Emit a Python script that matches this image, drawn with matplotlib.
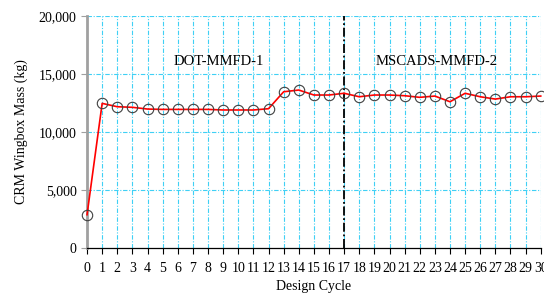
import numpy as np
import matplotlib
matplotlib.use("Agg")
import matplotlib.pyplot as plt

# design cycle history of wingbox mass
cycles = list(range(0, 31))
mass = [2870, 12470, 12180, 12130, 11980, 11950, 11950, 11950, 11950, 11900,
        11900, 11900, 12010, 13470, 13620, 13190, 13190, 13340, 13040, 13190,
        13190, 13130, 12990, 13100, 12610, 13340, 13040, 12840, 13040, 13040,
        13100]
switch_cycle = 17
phase_labels = ["DOT-MMFD-1", "MSCADS-MMFD-2"]
phase_label_x = [8.7, 23.1]
yticks = [0, 5000, 10000, 15000, 20000]

plt.rcParams['font.family'] = ['Liberation Serif', 'DejaVu Serif']

fig = plt.figure(figsize=(5.44, 2.97), dpi=100)
ax = fig.add_axes([0.16, 0.165, 0.834, 0.781])

grid_c = '#3fd0f5'
for x in cycles[1:]:
    ax.axvline(x, color=grid_c, lw=0.8, ls=(0, (4, 1.5, 1, 1.5)), zorder=0)
for y in yticks[1:]:
    ax.axhline(y, color=grid_c, lw=0.8, ls=(0, (4, 1.5, 1, 1.5)), zorder=0)

ax.plot(cycles, mass, color='#ff0000', lw=1.2, marker='o', ms=7.5,
        mfc='none', mec='#404040', mew=0.8, zorder=3, clip_on=False)
ax.axvline(switch_cycle, color='black', lw=1.3, ls=(0, (5, 1.5, 1, 1.5)), zorder=2)

for lab, x in zip(phase_labels, phase_label_x):
    ax.text(x, 16100, lab, ha='center', va='center', fontsize=10.5)

ax.set_xlim(0, 30)
ax.set_ylim(0, 20000)
ax.set_xticks(cycles)
ax.set_yticks(yticks)
ax.set_yticklabels([f"{v:,}" for v in yticks])
ax.tick_params(axis='both', labelsize=10, length=4, width=0.8)
ax.tick_params(axis='x', pad=6)
ax.tick_params(axis='y', colors='#a0a0a0', labelcolor='black')

for s in ['top', 'right']:
    ax.spines[s].set_visible(False)
ax.spines['left'].set_color('#a0a0a0')
ax.spines['left'].set_linewidth(2)
ax.spines['bottom'].set_linewidth(0.9)

ax.set_xlabel("Design Cycle", fontsize=10, labelpad=4)
ax.set_ylabel("CRM Wingbox Mass (kg)", fontsize=10, labelpad=8)

fig.savefig("out.png", dpi=100)
